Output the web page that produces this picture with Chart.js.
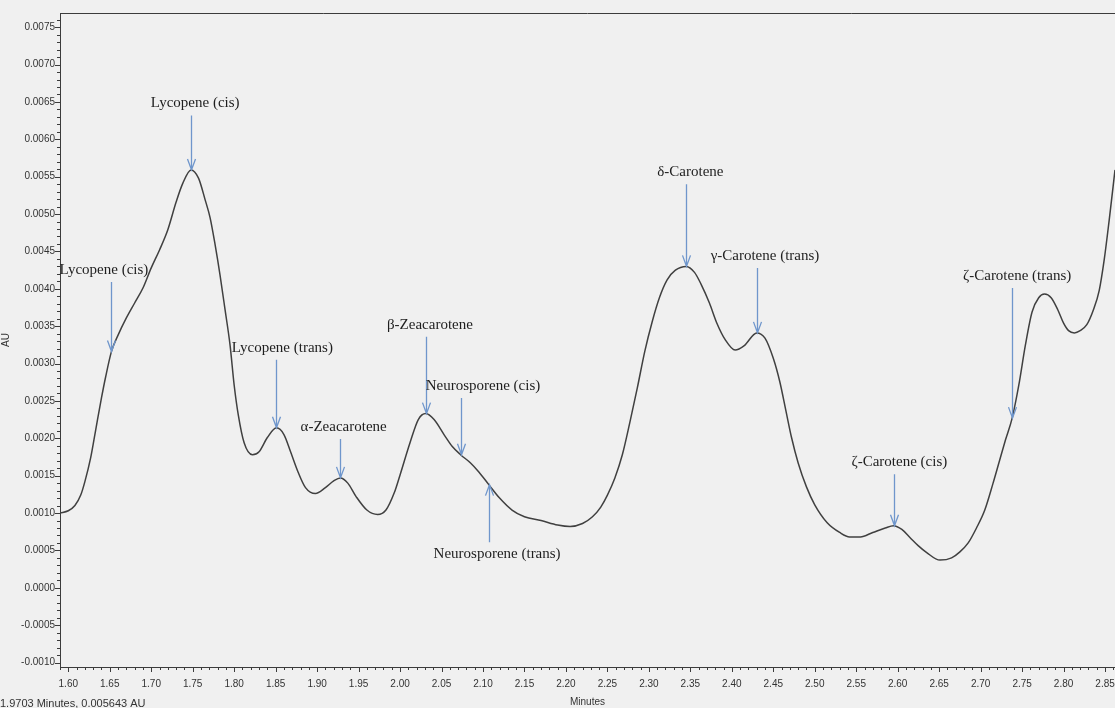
<!DOCTYPE html>
<html>
<head>
<meta charset="utf-8">
<script src="https://cdn.jsdelivr.net/npm/chart.js@4.4.1/dist/chart.umd.min.js"></script>
<style>
  html, body { margin: 0; padding: 0; background: #f0f0f0; }
  #wrap { width: 1115px; height: 708px; position: relative; }
</style>
</head>
<body>
<div id="wrap"><canvas id="chrom"></canvas></div>
<script>
// Retention time (min) of each sampled detector reading
const times = [
  1.590, 1.600, 1.608, 1.615, 1.620, 1.627, 1.633, 1.640, 1.645, 1.652,
  1.660, 1.670, 1.680, 1.690, 1.700, 1.710, 1.720, 1.730, 1.738, 1.748,
  1.757, 1.765, 1.771, 1.777, 1.783, 1.789, 1.795, 1.800, 1.805, 1.812,
  1.822, 1.830, 1.840, 1.851, 1.860, 1.868, 1.877, 1.886, 1.898, 1.910,
  1.920, 1.928, 1.937, 1.947, 1.960, 1.973, 1.983, 1.993, 2.000, 2.012,
  2.022, 2.031, 2.041, 2.053, 2.063, 2.073, 2.085, 2.095, 2.107, 2.120,
  2.135, 2.150, 2.170, 2.190, 2.205, 2.220, 2.232, 2.242, 2.250, 2.259,
  2.268, 2.277, 2.286, 2.295, 2.304, 2.313, 2.322, 2.332, 2.345, 2.355,
  2.363, 2.373, 2.382, 2.392, 2.404, 2.415, 2.430, 2.440, 2.450, 2.458,
  2.465, 2.472, 2.480, 2.490, 2.500, 2.515, 2.530, 2.542, 2.555, 2.570,
  2.585, 2.595, 2.605, 2.615, 2.625, 2.635, 2.651, 2.665, 2.675, 2.685,
  2.695, 2.705, 2.715, 2.723, 2.730, 2.738, 2.746, 2.754, 2.762, 2.770,
  2.777, 2.785, 2.793, 2.800, 2.806, 2.813, 2.820, 2.828, 2.836, 2.843,
  2.849, 2.855, 2.862
];

// Absorbance (AU) at each retention time
const absorbance = [
  0.00100, 0.00103, 0.00110, 0.00124, 0.00142, 0.00174, 0.00211, 0.00254, 0.00282, 0.00316,
  0.00338, 0.00361, 0.00381, 0.00401, 0.00428, 0.00452, 0.00479, 0.00516, 0.00541, 0.00559,
  0.00548, 0.00519, 0.00495, 0.00459, 0.00418, 0.00372, 0.00325, 0.00271, 0.00231, 0.00194,
  0.00178, 0.00182, 0.00201, 0.00214, 0.00205, 0.00182, 0.00155, 0.00134, 0.00126, 0.00134,
  0.00143, 0.00147, 0.00140, 0.00122, 0.00104, 0.00098, 0.00104, 0.00127, 0.00151, 0.00194,
  0.00225, 0.00233, 0.00225, 0.00205, 0.00189, 0.00178, 0.00167, 0.00155, 0.00138, 0.00120,
  0.00104, 0.00095, 0.00090, 0.00084, 0.00082, 0.00086, 0.00095, 0.00108, 0.00124, 0.00147,
  0.00178, 0.00221, 0.00267, 0.00316, 0.00356, 0.00389, 0.00412, 0.00425, 0.00430, 0.00422,
  0.00406, 0.00381, 0.00354, 0.00332, 0.00318, 0.00324, 0.00341, 0.00334, 0.00307, 0.00275,
  0.00238, 0.00201, 0.00167, 0.00135, 0.00111, 0.00087, 0.00074, 0.00068, 0.00068, 0.00074,
  0.00080, 0.00083, 0.00078, 0.00067, 0.00056, 0.00047, 0.00037, 0.00040, 0.00048, 0.00060,
  0.00080, 0.00104, 0.00140, 0.00171, 0.00198, 0.00227, 0.00271, 0.00325, 0.00369, 0.00388,
  0.00393, 0.00388, 0.00372, 0.00354, 0.00344, 0.00341, 0.00344, 0.00352, 0.00372, 0.00398,
  0.00439, 0.00492, 0.00559
];

// Axis tick labels
const timeTicks = [1.60, 1.65, 1.70, 1.75, 1.80, 1.85, 1.90, 1.95, 2.00, 2.05, 2.10, 2.15, 2.20,
                   2.25, 2.30, 2.35, 2.40, 2.45, 2.50, 2.55, 2.60, 2.65, 2.70, 2.75, 2.80, 2.85];
const auTicks = [-0.0010, -0.0005, 0.0000, 0.0005, 0.0010, 0.0015, 0.0020, 0.0025, 0.0030,
                 0.0035, 0.0040, 0.0045, 0.0050, 0.0055, 0.0060, 0.0065, 0.0070, 0.0075];

// Peak identifications: arrow tip (time, AU) and caption anchor (time, AU)
const peakNames = [
  'Lycopene (cis)', 'Lycopene (cis)', 'Lycopene (trans)', 'α-Zeacarotene', 'β-Zeacarotene',
  'Neurosporene (cis)', 'Neurosporene (trans)', 'δ-Carotene', 'γ-Carotene (trans)',
  'ζ-Carotene (cis)', 'ζ-Carotene (trans)'
];
const peakTimes    = [1.652, 1.748, 1.851, 1.928, 2.031, 2.073, 2.107, 2.345, 2.430, 2.595, 2.738];
const peakAU       = [0.00316, 0.00559, 0.00214, 0.00147, 0.00233, 0.00178, 0.00138, 0.00430, 0.00341, 0.00083, 0.00227];
const captionTimes = [1.643, 1.753, 1.858, 1.932, 2.036, 2.100, 2.117, 2.350, 2.440, 2.602, 2.744];
const captionAU    = [0.00425, 0.00648, 0.00321, 0.00215, 0.00352, 0.00270, 0.00045, 0.00556, 0.00444, 0.00168, 0.00417];

const cursorReadout = '1.9703 Minutes, 0.005643 AU';

const AXIS_COLOR = '#3c3c3c';
const TICK_FONT = { family: '"Liberation Sans Narrow", "Liberation Sans", Arial, sans-serif', size: 10 };

// Minor tick marks along both axes plus the frame line on top
const axisDecor = {
  id: 'axisDecor',
  afterDraw(chart) {
    const { ctx, chartArea: a, scales: { x, y } } = chart;
    ctx.save();
    ctx.strokeStyle = AXIS_COLOR;
    ctx.lineWidth = 1;
    ctx.beginPath();
    // top frame
    ctx.moveTo(a.left, a.top + 0.5); ctx.lineTo(a.right, a.top + 0.5);
    // x minor / major ticks
    for (let k = 159; k <= 286; k++) {
      const t = k / 100;
      const px = Math.round(x.getPixelForValue(t)) + 0.5;
      if (px < a.left || px > a.right) continue;
      const major = k % 5 === 0;
      ctx.moveTo(px, a.bottom); ctx.lineTo(px, a.bottom + (major ? 5 : 3));
    }
    // y minor / major ticks
    for (let k = -10; k <= 76; k++) {
      const v = k / 10000;
      const py = Math.round(y.getPixelForValue(v)) + 0.5;
      if (py < a.top || py > a.bottom) continue;
      const major = k % 5 === 0;
      ctx.moveTo(a.left, py); ctx.lineTo(a.left - (major ? 5 : 3), py);
    }
    ctx.stroke();

    // cursor readout under the plot
    ctx.fillStyle = '#333';
    ctx.font = '11px "Liberation Sans Narrow", "Liberation Sans", Arial, sans-serif';
    ctx.textBaseline = 'top';
    ctx.textAlign = 'left';
    ctx.fillText(cursorReadout, 0, 698);
    ctx.restore();
  }
};

// Peak captions with arrows pointing at the trace
const peakLabels = {
  id: 'peakLabels',
  afterDatasetsDraw(chart) {
    const { ctx, scales: { x, y } } = chart;
    ctx.save();
    ctx.font = '15px "Liberation Serif", "Times New Roman", serif';
    ctx.textAlign = 'center';
    ctx.textBaseline = 'middle';
    const blue = '#6f96cc';
    peakNames.forEach((name, i) => {
      const tx = x.getPixelForValue(captionTimes[i]);
      const ty = y.getPixelForValue(captionAU[i]);
      const ax = Math.round(x.getPixelForValue(peakTimes[i])) + 0.5;
      const tipY = y.getPixelForValue(peakAU[i]);
      const down = tipY > ty;
      const startY = down ? ty + 12 : ty - 12;
      ctx.strokeStyle = blue;
      ctx.lineWidth = 1.3;
      ctx.beginPath();
      ctx.moveTo(ax, startY);
      ctx.lineTo(ax, tipY);
      const d = down ? -1 : 1;
      ctx.moveTo(ax - 4, tipY + d * 11);
      ctx.lineTo(ax, tipY);
      ctx.lineTo(ax + 4, tipY + d * 11);
      ctx.stroke();
      ctx.fillStyle = '#1e1e1e';
      ctx.fillText(name, tx, ty);
    });
    ctx.restore();
  }
};

new Chart(document.getElementById('chrom'), {
  type: 'line',
  data: {
    datasets: [{
      data: times.map((t, i) => ({ x: t, y: absorbance[i] })),
      borderColor: '#404040',
      borderWidth: 1.5,
      pointRadius: 0,
      cubicInterpolationMode: 'monotone',
      fill: false,
      clip: 0
    }]
  },
  options: {
    responsive: true,
    maintainAspectRatio: false,
    animation: false,
    events: [],
    layout: { padding: { top: 13, left: 0, right: 0, bottom: 0 } },
    plugins: { legend: { display: false }, tooltip: { enabled: false } },
    scales: {
      x: {
        type: 'linear',
        min: 1.59,
        max: 2.862,
        afterBuildTicks(scale) { scale.ticks = timeTicks.map(v => ({ value: v })); },
        afterFit(scale) { scale.height = 41; scale.paddingLeft = 0; scale.paddingRight = 0; },
        grid: { display: false, drawTicks: false },
        border: { display: true, color: AXIS_COLOR, width: 1 },
        ticks: {
          color: '#333', font: TICK_FONT, padding: 11, maxRotation: 0, autoSkip: false,
          callback: v => v.toFixed(2)
        },
        title: {
          display: true, text: 'Minutes', color: '#333',
          font: { family: TICK_FONT.family, size: 10 }, padding: { top: 1, bottom: 0 }
        }
      },
      y: {
        type: 'linear',
        min: -0.00106,
        max: 0.00769,
        afterBuildTicks(scale) { scale.ticks = auTicks.map(v => ({ value: v })); },
        afterFit(scale) { scale.width = 60; scale.paddingTop = 0; scale.paddingBottom = 0; },
        grid: { display: false, drawTicks: false },
        border: { display: true, color: AXIS_COLOR, width: 1 },
        ticks: {
          color: '#333', font: TICK_FONT, padding: 5, autoSkip: false,
          callback: v => v.toFixed(4)
        },
        title: {
          display: true, text: 'AU', color: '#333',
          font: { family: TICK_FONT.family, size: 10 }, padding: { top: 0, bottom: 0 }
        }
      }
    }
  },
  plugins: [axisDecor, peakLabels]
});
</script>
</body>
</html>
